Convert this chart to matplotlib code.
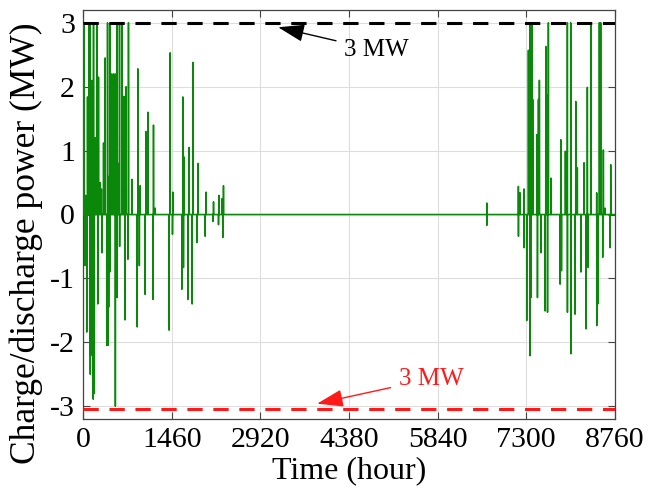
#!/usr/bin/env python3
"""Hourly charge/discharge power of the storage unit over one year."""

import matplotlib

matplotlib.use("Agg")

import matplotlib.pyplot as plt
import numpy as np

plt.rcParams["font.family"] = ["Liberation Serif", "DejaVu Serif"]
plt.rcParams["mathtext.fontset"] = "stix"

# hours of the year where the unit is active, and the power there (MW)
spike_hours = [
    16, 40, 71, 95, 115, 140, 170, 198, 225, 252, 280, 300, 335, 362, 401, 430,
    445, 470, 500, 527, 555, 575, 598, 637, 656, 675, 708, 746, 802, 900, 939,
    1032, 1065, 1158, 1186, 1433, 1477, 1642, 1664, 1746, 1807, 1894, 2026,
    2147, 2235, 2290, 2311,
    # discharge side of the winter/spring block
    26, 58, 117, 123, 165, 183, 240, 310, 388, 410, 420, 438, 530, 560,
    600, 690, 737, 890, 925, 1020, 1148, 1416, 1471, 1625, 1652, 1724, 1795,
    1872, 2009, 2136, 2229, 2300,
    # single event in autumn
    6649, 6650,
    # autumn/winter block, charge side
    7170, 7197, 7263, 7335, 7362, 7395, 7406, 7472, 7500, 7516, 7621, 7637,
    7664, 7708, 7868, 7944, 7977, 8032, 8115, 8141, 8251, 8306, 8362, 8460,
    8504, 8526, 8570, 8597, 8691,
    # autumn/winter block, discharge side
    7171, 7264, 7307, 7363, 7380, 7484, 7540, 7610, 7650, 7857, 7880, 7978,
    8038, 8104, 8200, 8286, 8320, 8461, 8480, 8559, 8680,
]
spike_values = [
    3.0, 0.3, 1.84, 3.0, 3.0, 2.1, 3.0, 1.2, 3.0, 2.15, 0.5, 0.4, 1.12, 2.45, 3.0, 0.6,
    3.0, 2.2, 2.2, 2.2, 3.0, 0.8, 3.0, 3.0, 1.0, 1.85, 2.0, 3.0, 0.55, 2.28, 0.45,
    1.3, 1.6, 1.4, 0.1, 2.53, 0.35, 1.84, 0.9, 1.05, 2.38, 0.8, 0.35,
    0.2, 0.3, 0.25, 0.45,
    -0.8, -1.84, -2.5, -2.21, -2.89, -2.8, -1.4, -0.6, -2.05, -2.05, -1.45, -0.9, -3.0, -1.3,
    -0.5, -1.65, -0.7, -1.76, -0.8, -1.25, -1.33, -1.81, -0.31, -1.17, -0.83, -1.33, -1.4,
    -0.44, -0.34, -0.11, -0.16, -0.36,
    0.18, -0.17,
    0.44, 0.34, 0.4, 2.57, 3.0, 3.0, 1.8, 1.25, 1.8, 2.1, 2.63, 1.87,
    3.0, 0.57, 1.17, 0.99, 3.0, 3.0, 1.77, 0.73, 0.81, 1.99, 3.0, 0.34,
    3.0, 3.0, 1.01, 0.1, 0.78,
    -0.34, -0.52, -1.66, -2.21, -1.3, -1.3, -0.6, -1.51, -1.53, -1.09, -0.88, -1.53,
    -2.18, -1.56, -0.9, -1.79, -0.83, -1.74, -1.4, -0.67, -0.52,
]

charge_limit = 3.0
discharge_limit = -3.05

x_ticks = [0, 1460, 2920, 4380, 5840, 7300, 8760]
y_ticks = [-3, -2, -1, 0, 1, 2, 3]

hours = np.arange(0, 8761)
power = np.zeros(hours.size)
power[spike_hours] = spike_values

fig = plt.figure(figsize=(6.5, 5.0), dpi=100)
ax = fig.add_axes([0.128, 0.162, 0.818, 0.818])

ax.plot(hours, power, color="#0a880a", linewidth=1.1, zorder=3)
ax.plot([0, 8760], [charge_limit, charge_limit], color="black",
        linestyle=(0, (5, 3.5)), linewidth=2.2, zorder=4)
ax.plot([0, 8760], [discharge_limit, discharge_limit], color="#ff1a1a",
        linestyle=(0, (5, 3.5)), linewidth=2.2, zorder=4)

ax.annotate("3 MW", xy=(3212, 2.93), xytext=(4300, 2.57), fontsize=18,
            color="black", va="center", ha="left",
            arrowprops=dict(arrowstyle="-|>,head_length=0.9,head_width=0.3",
                            color="black", lw=1.0, shrinkA=4, shrinkB=0))
ax.annotate("3 MW", xy=(3854, -2.96), xytext=(5200, -2.57), fontsize=18,
            color="#ff1a1a", va="center", ha="left",
            arrowprops=dict(arrowstyle="-|>,head_length=0.9,head_width=0.3",
                            color="#ff1a1a", lw=1.0, shrinkA=4, shrinkB=0))

ax.set_xlim(0, 8760)
ax.set_ylim(-3.2, 3.2)
ax.set_xticks(x_ticks)
ax.set_yticks(y_ticks)
ax.set_yticklabels([str(v) for v in y_ticks])
ax.tick_params(direction="in", top=True, right=True, labelsize=21.5,
               length=5, width=0.8, color="#444444", pad=6)
ax.grid(True, color="#dddddd", linewidth=0.8)
for spine in ax.spines.values():
    spine.set_color("#444444")
    spine.set_linewidth(0.9)

ax.set_xlabel("Time (hour)", fontsize=23, labelpad=2)
ax.set_ylabel("Charge/discharge power (MW)", fontsize=25.5)
ax.yaxis.set_label_coords(-0.075, 0.43)

fig.savefig("out.png")
plt.close(fig)
